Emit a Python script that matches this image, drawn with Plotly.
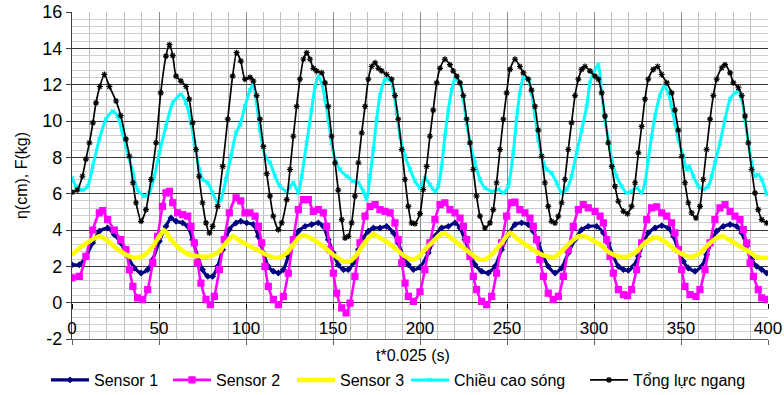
import plotly.graph_objects as go

# ---------------- data ----------------
# Sensor 1
S1_X = [0, 4.2, 8, 11.9, 15.7, 20.5, 24.3, 28, 32, 35.8,
        39.7, 43.5, 46.4, 50.2, 54, 56.9, 59.8, 63.6, 66.5, 69.3,
        72.2, 75, 78, 80.8, 83.7, 86.6, 90.4, 94.3, 97, 100.4,
        104.2, 107.1, 110, 112.8, 115.7, 118.6, 121.5, 124.3, 127.2, 130.1,
        134, 137.7, 141.6, 144.4, 147.3, 150.2, 153, 156, 158.8, 161.7,
        164.6, 167.4, 170.3, 173.2, 177, 180.8, 184.7, 187.5, 190.4, 193.3,
        196.2, 200, 204.8, 208.6, 212.4, 216.3, 220.1, 223, 225.8, 228.7,
        231.6, 235.4, 239.2, 243.1, 246.9, 250.7, 254.6, 258.4, 262.2, 265.1,
        268, 270.9, 273.7, 277.6, 281.4, 285.2, 289.1, 292.9, 296.7, 301.5,
        305.4, 308.2, 311.1, 314, 316.9, 319.7, 322.6, 325.5, 328.4, 331.2,
        335.1, 338.9, 342.7, 345.6, 348.5, 351.3, 354.2, 358, 361.9, 364.7,
        367.6, 370.5, 374.3, 378.2, 382, 384.9, 387.7, 390.6, 393.5, 396.4,
        399.2]
S1_Y = [2.09, 2.09, 2.55, 3.29, 3.93, 4.11, 3.75, 3.29, 2.55, 1.91,
        1.63, 1.82, 2.37, 3.38, 4.2, 4.66, 4.48, 4.39, 4.2, 3.47,
        2.55, 1.82, 1.45, 1.45, 2.0, 2.92, 4.02, 4.39, 4.48, 4.39,
        4.3, 3.65, 2.74, 2.0, 1.73, 1.63, 1.82, 2.55, 3.29, 3.93,
        4.2, 4.3, 4.39, 4.2, 3.47, 2.74, 2.09, 1.82, 1.82, 2.19,
        2.92, 3.56, 3.93, 4.11, 4.11, 4.2, 3.84, 3.29, 2.55, 2.09,
        1.82, 1.95, 2.74, 3.65, 4.11, 4.2, 4.39, 4.11, 3.47, 2.74,
        2.09, 1.73, 1.63, 2.0, 2.92, 3.75, 4.3, 4.39, 4.3, 3.93,
        3.29, 2.55, 2.0, 1.63, 1.91, 2.74, 3.47, 4.02, 4.2, 4.2,
        3.84, 3.29, 2.55, 2.0, 1.82, 1.78, 2.0, 2.55, 3.29, 3.84,
        4.11, 4.24, 4.11, 3.65, 2.92, 2.28, 1.91, 1.73, 2.0, 2.64,
        3.38, 3.93, 4.2, 4.3, 4.2, 3.84, 3.1, 2.37, 2.0, 1.82,
        1.63]

# Sensor 2
S2_X = [0, 4.2, 8, 11.9, 15.7, 17.6, 20.5, 24.3, 28, 31,
        33, 35, 37.7, 40.6, 43.5, 46.4, 49.2, 52, 54, 56,
        57.9, 60.7, 63.6, 66.5, 68.4, 70.3, 72.2, 74.1, 77, 79.5,
        81.8, 84.7, 87.5, 90.4, 94.3, 97, 99.4, 102.3, 105.2, 107.1,
        109, 110.9, 112.8, 115.7, 118.6, 121.5, 124.3, 127.2, 130.1, 133,
        135.8, 138.7, 141.6, 144.4, 146.4, 148.3, 150.2, 152.1, 155, 157.5,
        159.8, 162.6, 165.5, 168.4, 171.3, 174.2, 177, 179.9, 182.8, 185.6,
        187.5, 189.5, 191.4, 193.3, 196.2, 200, 202.8, 205.7, 208.6, 211.5,
        214.3, 217.2, 220.1, 223, 224.9, 226.8, 228.7, 230.6, 232.5, 235.4,
        238.3, 241.2, 244, 246.9, 249.8, 252.7, 254.6, 257.4, 260.3, 263.2,
        265.1, 267, 268.9, 270.9, 273.7, 276.6, 279.5, 282.4, 285.2, 288.1,
        291, 293.8, 296.7, 300.6, 303.5, 305.4, 307.3, 309.2, 311.1, 314,
        316.9, 319.3, 321.6, 324.5, 327.4, 330.3, 333.1, 336, 338.9, 341.8,
        344.6, 346.5, 348.5, 350.4, 352.3, 355.2, 358.6, 360.9, 363.8, 366.7,
        369.5, 372.4, 375.3, 378.2, 381, 383.9, 385.8, 387.7, 389.7, 391.6,
        394.4, 396.4, 399.2]
S2_Y = [1.36, 1.45, 2.55, 4.0, 4.94, 5.07, 4.57, 4.0, 3.47, 2.92,
        1.82, 0.9, 0.26, 0.17, 0.72, 2.19, 3.65, 5.3, 6.04, 6.13,
        5.5, 4.94, 4.85, 4.76, 4.2, 3.29, 2.19, 1.08, 0.17, -0.11,
        0.35, 1.82, 3.47, 4.94, 5.77, 5.6, 4.94, 4.94, 4.76, 4.2,
        3.29, 2.0, 0.9, 0.17, -0.11, 0.35, 1.63, 3.47, 5.12, 5.67,
        5.67, 5.03, 5.12, 4.94, 4.2, 2.92, 1.63, 0.53, -0.29, -0.57,
        -0.02, 1.45, 3.29, 4.76, 5.3, 5.4, 5.12, 5.03, 4.94, 4.39,
        3.47, 2.19, 1.08, 0.35, 0.07, 0.6, 1.82, 3.29, 4.57, 5.4,
        5.5, 5.12, 4.94, 4.66, 4.2, 3.47, 2.55, 1.45, 0.72, 0.07,
        -0.11, 0.35, 1.63, 3.29, 4.76, 5.5, 5.53, 5.12, 4.94, 4.66,
        4.2, 3.47, 2.37, 1.45, 0.53, 0.17, 0.35, 1.45, 2.92, 4.2,
        5.12, 5.4, 5.22, 5.03, 4.76, 4.39, 3.47, 2.55, 1.63, 0.72,
        0.44, 0.39, 0.72, 1.82, 3.29, 4.57, 5.22, 5.27, 4.94, 4.76,
        4.39, 3.84, 2.92, 1.82, 0.9, 0.44, 0.35, 0.72, 1.82, 3.29,
        4.57, 5.22, 5.4, 5.03, 4.76, 4.57, 4.02, 3.29, 2.19, 1.45,
        0.72, 0.26, 0.17]

# Sensor 3
S3_X = [0, 4.2, 10, 15.7, 19.5, 25.3, 31, 35.8, 40.6, 46.4,
        50.2, 53, 56.9, 61.7, 67.4, 73.2, 79, 84.7, 88.5, 92.3,
        96.6, 102.3, 108, 113.8, 118.6, 123.4, 127.2, 131, 134, 138.7,
        144.4, 150.2, 156, 159.8, 163.6, 167.4, 171.3, 173.2, 177, 181.8,
        186.6, 191.4, 196.2, 200, 202.8, 207.6, 211.5, 214.3, 219.1, 223.9,
        228.7, 233.5, 237.3, 242.1, 246.9, 251.7, 256.5, 262.2, 268, 272.8,
        277.6, 281.4, 286.2, 291, 294.8, 299, 303.5, 309.2, 315, 319.7,
        324.5, 329.3, 334.1, 337, 341.8, 346.5, 351.3, 356.1, 360.9, 365.7,
        370.5, 374.3, 379.1, 383.9, 388.7, 393.5, 399.2]
S3_Y = [2.64, 3.0, 3.38, 3.65, 3.47, 3.0, 2.64, 2.46, 2.55, 3.1,
        3.65, 3.98, 3.47, 3.0, 2.64, 2.55, 2.55, 2.83, 3.29, 3.65,
        3.4, 3.1, 2.83, 2.55, 2.46, 2.74, 3.2, 3.65, 3.69, 3.47,
        3.1, 2.64, 2.28, 2.28, 2.64, 3.2, 3.65, 3.78, 3.56, 3.29,
        2.92, 2.55, 2.37, 2.6, 2.92, 3.38, 3.75, 3.8, 3.47, 3.1,
        2.74, 2.41, 2.37, 2.74, 3.29, 3.84, 3.47, 3.1, 2.74, 2.55,
        2.52, 2.83, 3.29, 3.65, 3.65, 3.45, 3.2, 2.74, 2.52, 2.55,
        2.83, 3.29, 3.56, 3.56, 3.29, 2.92, 2.64, 2.52, 2.74, 3.2,
        3.56, 3.65, 3.38, 3.1, 2.83, 2.52, 2.46]

# Chiều cao sóng (wave height)
WH_X = [0, 2.3, 6, 9, 11.9, 15.7, 19.5, 23.4, 26.2, 29,
        32, 35, 37.7, 41.6, 44.4, 47.3, 50.2, 54, 57.9, 62.6,
        65.5, 68.4, 70.3, 73.2, 75, 78, 80.8, 83.7, 85.6, 88.5,
        91.4, 94.3, 96.6, 99.4, 102.3, 104.2, 106.1, 108, 110.9, 113.8,
        116.7, 119.5, 123.4, 127.2, 130.1, 132, 134.9, 137.7, 139.7, 141.6,
        143.5, 145.4, 147.3, 149.2, 151.2, 154, 157.9, 161.7, 164.6, 167.4,
        169.3, 171.3, 173.2, 175.1, 177, 179.9, 182.8, 184.7, 186.6, 188.5,
        191.4, 194.3, 197.1, 200, 202.8, 205.7, 208.6, 210.5, 212.4, 214.3,
        216.3, 218.2, 220.1, 223, 224.9, 226.8, 228.7, 231.6, 234.5, 237.3,
        241.2, 245, 247.9, 250.7, 253.6, 255.5, 257.4, 259.4, 262.2, 264.1,
        266.1, 268, 269.9, 272.8, 275.6, 278.5, 281.4, 284.3, 287.1, 290,
        292.9, 295.8, 297.7, 299.6, 302.5, 304.4, 306.3, 308.2, 310.2, 313,
        315.9, 318.8, 321.6, 324.5, 327.4, 329.3, 331.2, 333.1, 335.1, 337.9,
        340.2, 342.7, 344.6, 346.5, 348.5, 351.3, 353.3, 354.8, 357.1, 360,
        362.8, 365.7, 367.6, 369.5, 372.4, 375.3, 378.2, 381, 383, 384.9,
        386.8, 388.7, 390.6, 392.5, 394.4, 396.4, 399.2]
WH_Y = [6.87, 6.4, 6.2, 6.4, 7.5, 9.0, 10.1, 10.54, 10.27, 9.35,
        8.25, 7.14, 6.2, 5.86, 6.04, 6.96, 8.25, 9.7, 11.0, 11.46,
        11.0, 9.9, 8.8, 7.33, 6.78, 6.6, 6.04, 5.5, 5.67, 6.78,
        8.06, 9.35, 9.8, 10.8, 11.7, 12.0, 11.0, 9.5, 8.06, 7.7,
        6.96, 6.4, 6.13, 6.6, 6.04, 6.96, 8.8, 10.6, 11.9, 12.47,
        12.1, 11.2, 10.1, 8.8, 7.88, 7.33, 6.96, 6.69, 6.6, 6.13,
        5.67, 6.96, 8.43, 10.1, 11.4, 12.3, 12.3, 11.7, 10.45, 9.16,
        8.06, 7.33, 6.7, 6.32, 6.87, 6.5, 6.13, 6.4, 7.5, 9.16,
        10.6, 11.7, 12.3, 12.1, 11.2, 9.9, 8.8, 7.7, 6.78, 6.32,
        6.13, 6.23, 6.04, 6.4, 8.25, 10.1, 11.55, 12.38, 12.3, 11.55,
        10.27, 8.98, 8.06, 7.33, 7.14, 6.6, 6.04, 6.23, 6.96, 8.25,
        9.5, 10.8, 12.1, 12.65, 13.1, 11.55, 10.1, 8.98, 7.88, 6.96,
        6.4, 6.04, 6.13, 6.32, 6.04, 6.6, 7.88, 9.16, 10.27, 11.4,
        11.92, 11.55, 10.8, 9.9, 8.98, 8.06, 7.33, 7.5, 6.96, 6.4,
        6.23, 6.4, 6.96, 7.7, 8.8, 10.1, 11.2, 11.55, 11.64, 11.2,
        10.1, 8.8, 7.7, 6.96, 7.05, 6.78, 5.95]

# Tổng lực ngang (total horizontal force)
TF_X = [0, 3, 6, 8, 10, 12, 13.8, 16, 18.6, 21.5,
        25.3, 28, 31, 33, 35, 36.8, 39.7, 42.5, 45.4, 48.3,
        51, 54, 56, 57.9, 59.8, 62.6, 65.5, 67.4, 69.3, 71.3,
        73, 75, 77, 79, 80.8, 83.7, 86.6, 89.5, 92.3, 94.6,
        97, 99.4, 102.3, 104.2, 106.1, 108, 110, 111.9, 113.8, 115.7,
        118.6, 120.5, 123.4, 125.3, 127.2, 129.1, 131, 133, 134.9, 136.8,
        138.7, 140.6, 143.5, 145.4, 147.3, 149.2, 151.2, 153, 155, 156.9,
        158.8, 160.7, 162.6, 164.6, 166.5, 168.4, 170.3, 172.2, 174.2, 176.1,
        178, 180.8, 183.7, 185.6, 187.5, 189.5, 191.4, 193.3, 195.2, 197.1,
        200, 201.9, 203.8, 205.7, 207.6, 209.6, 211.5, 214.3, 217.2, 219.1,
        221.1, 223, 224.9, 226.8, 228.7, 230.6, 232.5, 234.5, 237.3, 240.2,
        242.1, 244, 246, 247.9, 249.8, 251.7, 254.6, 257.4, 259.4, 262.2,
        264.1, 266.1, 268, 269.9, 271.8, 273.7, 275.6, 277.6, 279.5, 281.4,
        283.3, 285.2, 287.1, 289.1, 291, 292.9, 294.8, 297.7, 300.6, 302.5,
        304.4, 306.3, 308.2, 310.2, 312.1, 314, 316.9, 319.2, 321.6, 323.6,
        325.5, 327.4, 329.3, 331.2, 334.1, 336.6, 338.9, 341.8, 344.6, 346.5,
        348.5, 350.4, 352.3, 354.2, 356.1, 358.6, 360.9, 362.8, 364.7, 366.7,
        368.6, 370.5, 373.4, 375.3, 378.2, 380.1, 383, 384.9, 386.8, 388.7,
        390.6, 392.5, 394.4, 396.4, 399.2]
TF_Y = [6.08, 6.2, 6.96, 7.9, 8.8, 9.9, 11.0, 11.9, 12.56, 11.9,
        11.1, 10.3, 9.0, 8.06, 6.6, 5.5, 4.48, 5.12, 6.78, 8.8,
        11.55, 13.57, 14.2, 13.6, 12.47, 12.2, 11.9, 11.2, 9.9, 8.43,
        6.96, 5.5, 4.39, 3.84, 4.2, 5.3, 7.5, 10.1, 12.47, 13.76,
        13.3, 12.3, 12.4, 12.2, 11.4, 10.1, 8.6, 7.1, 5.86, 4.76,
        4.02, 4.39, 5.67, 7.33, 9.16, 10.8, 12.3, 13.4, 13.76, 13.4,
        12.9, 12.75, 12.65, 12.1, 10.8, 9.16, 7.7, 6.2, 4.57, 3.56,
        3.65, 4.39, 5.86, 7.7, 9.35, 10.8, 12.3, 13.0, 13.2, 12.9,
        12.75, 12.56, 12.3, 11.4, 10.1, 8.43, 6.78, 5.3, 4.39, 4.35,
        4.9, 6.23, 7.5, 9.16, 10.6, 12.1, 12.9, 13.4, 13.1, 12.75,
        12.47, 12.1, 11.4, 10.1, 8.8, 7.33, 5.86, 4.76, 4.11, 4.39,
        5.12, 6.6, 8.43, 10.1, 11.55, 12.84, 13.4, 13.0, 12.65, 12.3,
        11.7, 10.8, 9.5, 8.06, 6.6, 5.3, 4.48, 4.39, 4.76, 5.5,
        6.78, 8.43, 9.9, 11.4, 12.3, 12.84, 13.0, 12.75, 12.47, 12.3,
        11.55, 10.27, 8.8, 7.5, 6.4, 5.58, 5.03, 4.9, 5.3, 6.6,
        8.25, 9.7, 11.2, 12.3, 12.84, 13.0, 12.56, 12.1, 11.55, 10.6,
        9.5, 8.06, 6.6, 5.5, 4.94, 4.66, 5.3, 6.78, 8.43, 10.1,
        11.4, 12.3, 12.93, 13.1, 12.65, 12.1, 11.83, 11.4, 10.27, 8.8,
        7.33, 6.04, 5.12, 4.57, 4.39]

NAMES = ["Sensor 1", "Sensor 2", "Sensor 3", "Chiều cao sóng", "Tổng lực ngang"]
X_TITLE = "t*0.025 (s)"
Y_TITLE = "η(cm), F(kg)"
Y_TICKS = [-2, 0, 2, 4, 6, 8, 10, 12, 14, 16]
Y_TICK_TEXT = ["-2", "0", "2", "4", "6", "8", "10", "12", "14", "16"]

for a, b in [(S1_X, S1_Y), (S2_X, S2_Y), (S3_X, S3_Y), (WH_X, WH_Y), (TF_X, TF_Y)]:
    assert len(a) == len(b), (len(a), len(b))

FONT = "Liberation Sans, Arial, DejaVu Sans, sans-serif"
X_RANGE = [0, 400]
Y_RANGE = [-2, 16]
W, H = 784, 395
M = dict(l=72, r=16, t=12, b=56)

styles = [
    dict(color="#000080", width=3.2, symbol="diamond", size=4),
    dict(color="#FF00FF", width=2.6, symbol="square", size=6),
    dict(color="#FFFF00", width=4.5, symbol="triangle-up", size=4),
    dict(color="#00FFFF", width=3.0, symbol="x-thin-open", size=4),
    dict(color="#000000", width=1.7, symbol="asterisk-open", size=5),
]
series = [(S1_X, S1_Y), (S2_X, S2_Y), (S3_X, S3_Y), (WH_X, WH_Y), (TF_X, TF_Y)]
# left edge (px) of each legend entry, one small legend per series
legend_left_px = [46, 168, 292, 406, 585]
legend_ids = ["legend", "legend2", "legend3", "legend4", "legend5"]

fig = go.Figure()
for (xs, ys), name, st, lid in zip(series, NAMES, styles, legend_ids):
    fig.add_trace(go.Scatter(
        x=xs, y=ys, name=name, mode="lines+markers", legend=lid,
        line=dict(color=st["color"], width=st["width"], shape="spline", smoothing=0.6),
        marker=dict(symbol=st["symbol"], size=st["size"], color=st["color"],
                    line=dict(color=st["color"], width=1.2)),
    ))

# position (fraction of plot height) of the y = 0 line, where the x labels hang
y0_frac = (0 - Y_RANGE[0]) / (Y_RANGE[1] - Y_RANGE[0])
plot_h = H - M["t"] - M["b"]

legend_layout = {}
for lid, px in zip(legend_ids, legend_left_px):
    legend_layout[lid] = dict(
        orientation="h", xref="container", x=px / W, xanchor="left",
        yref="container", y=(H - 380) / H, yanchor="middle",
        font=dict(size=16), itemwidth=38, bgcolor="rgba(0,0,0,0)",
        borderwidth=0,
    )

fig.update_layout(
    width=W, height=H,
    margin=dict(**M, autoexpand=False),
    paper_bgcolor="white", plot_bgcolor="white",
    font=dict(family=FONT, size=16, color="#000000"),
    showlegend=True,
    xaxis=dict(
        range=X_RANGE, dtick=50, tick0=0, automargin=False,
        showgrid=True, gridcolor="#8a8a8a", gridwidth=1,
        showline=True, linecolor="#606060", linewidth=1.2,
        ticks="outside", ticklen=5, tickcolor="#606060",
        showticklabels=False,
        zeroline=False,
        minor=dict(dtick=10, showgrid=True, gridcolor="#bdbdbd", gridwidth=1),
    ),
    xaxis2=dict(
        range=X_RANGE, dtick=50, tick0=0, overlaying="x", matches="x",
        anchor="free", position=y0_frac, side="bottom", automargin=False,
        showgrid=False, showline=False, zeroline=False,
        ticks="outside", ticklen=5, tickcolor="#000000",
        tickfont=dict(size=17), ticklabelstandoff=5,
    ),
    yaxis=dict(
        range=Y_RANGE, tickmode="array", tickvals=Y_TICKS, ticktext=Y_TICK_TEXT,
        automargin=False,
        showgrid=True, gridcolor="#3a3a3a", gridwidth=1,
        showline=True, linecolor="#404040", linewidth=1.2,
        ticks="outside", ticklen=5, tickcolor="#404040",
        tickfont=dict(size=18),
        zeroline=False,
        minor=dict(tickmode="linear", tick0=0, dtick=0.4, showgrid=True,
                   gridcolor="#cfcfcf", gridwidth=1),
        title=dict(text=Y_TITLE, font=dict(size=16), standoff=10),
    ),
    annotations=[dict(
        text=X_TITLE, xref="paper", x=0.49, xanchor="center",
        yref="paper", y=-(355 - (H - M["b"])) / plot_h, yanchor="middle",
        showarrow=False, font=dict(size=16),
    )],
    **legend_layout,
)

# an invisible trace on the overlay axis so that its tick labels are drawn
fig.add_trace(go.Scatter(x=[X_RANGE[0], X_RANGE[1]], y=[None, None], xaxis="x2",
                         showlegend=False, hoverinfo="skip", mode="lines"))

fig.write_html(
    "out.html",
    config={"displayModeBar": False},
    post_script="document.body.style.margin='0';document.body.style.padding='0';",
)
